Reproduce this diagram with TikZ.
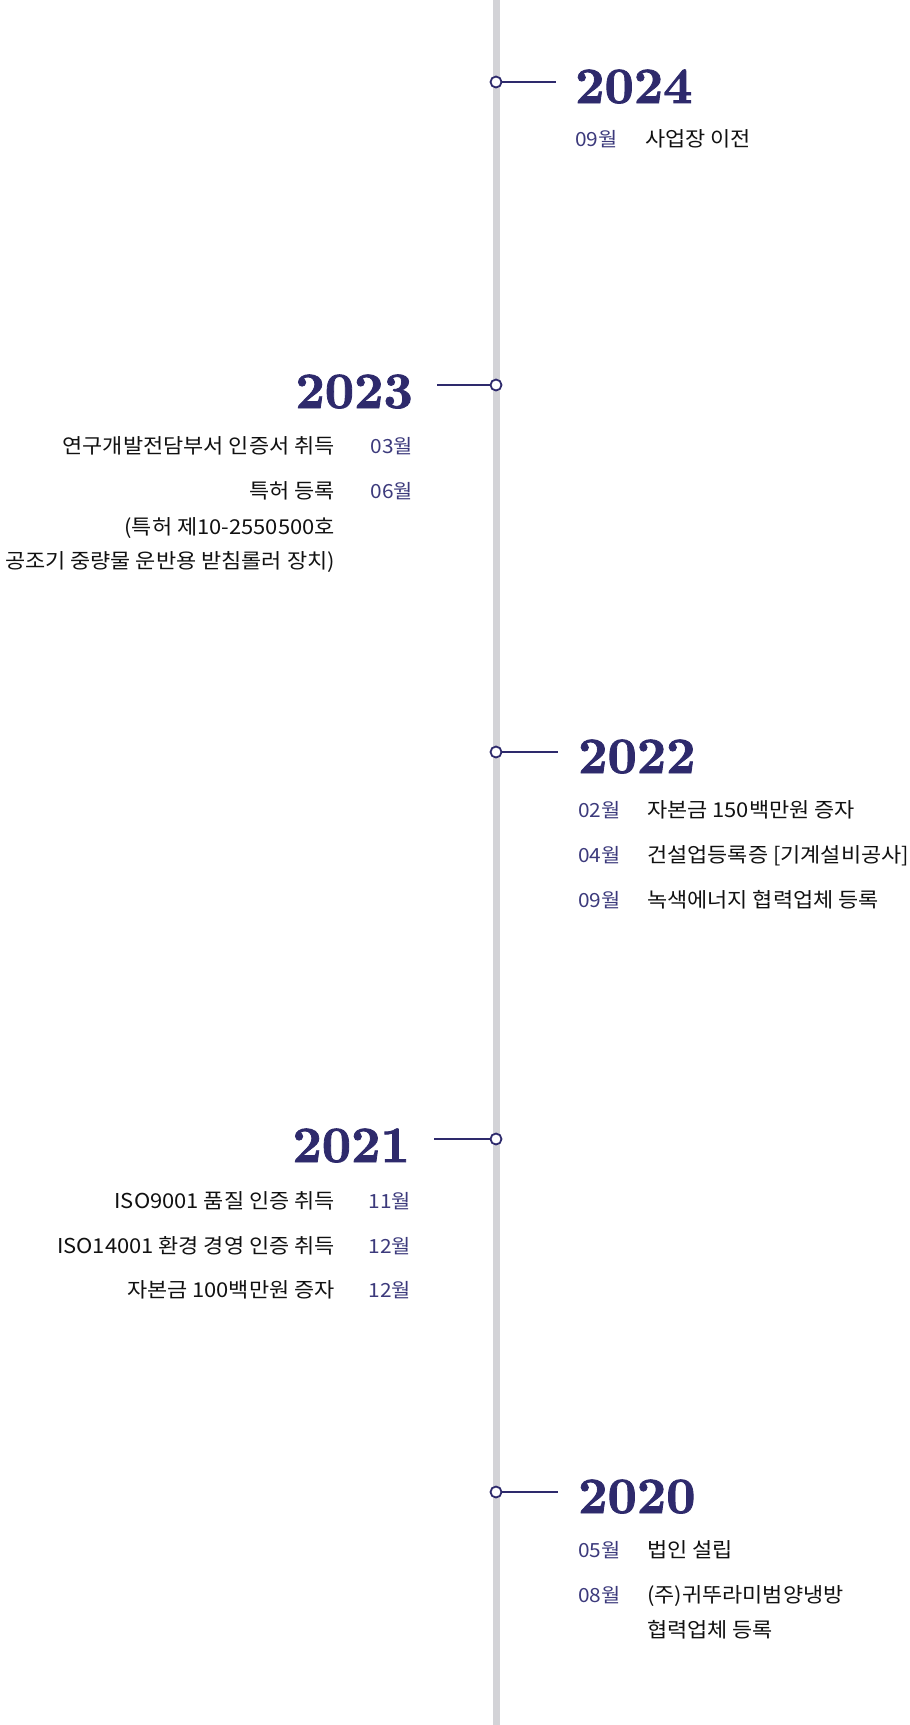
\documentclass[tikz,border=0pt]{standalone}
\usepackage{fontspec}
\newfontfamily\kr{Noto Sans CJK KR}[FakeStretch=1.07]
\newfontfamily\yrfont{lmroman10-bold}[Extension=.otf, FakeBold=1.6]
\definecolor{navy}{HTML}{2E2A6C}
\definecolor{moncol}{HTML}{3C3A7C}
\definecolor{railcol}{HTML}{D3D3D7}
\definecolor{txt}{HTML}{111111}
\tikzset{
  yr/.style={inner sep=0pt, text=navy, font=\yrfont\fontsize{51}{51}\selectfont},
  mon/.style={inner sep=0pt, text=moncol, font=\kr\fontsize{19.5}{22}\selectfont},
  ev/.style={inner sep=0pt, text=txt, font=\kr\fontsize{20.5}{24}\selectfont},
  dot/.style={circle, draw=navy, fill=white, line width=1.8pt, minimum size=11pt, inner sep=0pt},
  conn/.style={draw=navy, line width=1.3pt},
  rail/.style={draw=railcol, line width=7pt}
}
\begin{document}
\begin{tikzpicture}[x=1pt,y=-1pt]
\useasboundingbox (0,0) rectangle (910,1725);
\clip (0,0) rectangle (910,1725);
\fill[white] (0,0) rectangle (910,1725);
% rail
\coordinate (rtop) at (496,0);
\coordinate (rbot) at (496,1725);
\draw[rail] (rtop) -- (rbot);

% 2024
\coordinate (e24) at (556,82);
\draw[conn] (496,82) -- (e24);
\node[dot] (d24) at (496,82) {};
\node[yr,anchor=base west] (y24) at (575,103) {2024};
\node[mon,anchor=base west] (m24a) at (575,146) {09월};
\node[ev,anchor=base west] (t24a) at (645,146) {사업장 이전};

% 2023
\coordinate (e23) at (437,385);
\draw[conn] (e23) -- (496,385);
\node[dot] (d23) at (496,385) {};
\node[yr,anchor=base east] (y23) at (413,408) {2023};
\node[mon,anchor=base east] (m23a) at (413,453) {03월};
\node[ev,anchor=base east] (t23a) at (335,453) {연구개발전담부서 인증서 취득};
\node[mon,anchor=base east] (m23b) at (413,498) {06월};
\node[ev,anchor=base east] (t23b) at (335,498) {특허 등록};
\node[ev,anchor=base east] (t23c) at (335,534) {(특허 제10-2550500호};
\node[ev,anchor=base east] (t23d) at (335,568) {공조기 중량물 운반용 받침롤러 장치)};

% 2022
\coordinate (e22) at (558,752);
\draw[conn] (496,752) -- (e22);
\node[dot] (d22) at (496,752) {};
\node[yr,anchor=base west] (y22) at (578,773) {2022};
\node[mon,anchor=base west] (m22a) at (578,817) {02월};
\node[ev,anchor=base west] (t22a) at (647,817) {자본금 150백만원 증자};
\node[mon,anchor=base west] (m22b) at (578,862) {04월};
\node[ev,anchor=base west] (t22b) at (647,862) {건설업등록증 [기계설비공사]};
\node[mon,anchor=base west] (m22c) at (578,907) {09월};
\node[ev,anchor=base west] (t22c) at (647,907) {녹색에너지 협력업체 등록};

% 2021
\coordinate (e21) at (434,1139);
\draw[conn] (e21) -- (496,1139);
\node[dot] (d21) at (496,1139) {};
\node[yr,anchor=base east] (y21) at (410,1162) {2021};
\node[mon,anchor=base east] (m21a) at (411,1208) {11월};
\node[ev,anchor=base east] (t21a) at (335,1208) {ISO9001 품질 인증 취득};
\node[mon,anchor=base east] (m21b) at (411,1253) {12월};
\node[ev,anchor=base east] (t21b) at (335,1253) {ISO14001 환경 경영 인증 취득};
\node[mon,anchor=base east] (m21c) at (411,1297) {12월};
\node[ev,anchor=base east] (t21c) at (335,1297) {자본금 100백만원 증자};

% 2020
\coordinate (e20) at (558,1492);
\draw[conn] (496,1492) -- (e20);
\node[dot] (d20) at (496,1492) {};
\node[yr,anchor=base west] (y20) at (578,1513) {2020};
\node[mon,anchor=base west] (m20a) at (578,1557) {05월};
\node[ev,anchor=base west] (t20a) at (647,1557) {법인 설립};
\node[mon,anchor=base west] (m20b) at (578,1602) {08월};
\node[ev,anchor=base west] (t20b) at (647,1602) {(주)귀뚜라미범양냉방};
\node[ev,anchor=base west] (t20c) at (647,1637) {협력업체 등록};
\end{tikzpicture}
\end{document}
